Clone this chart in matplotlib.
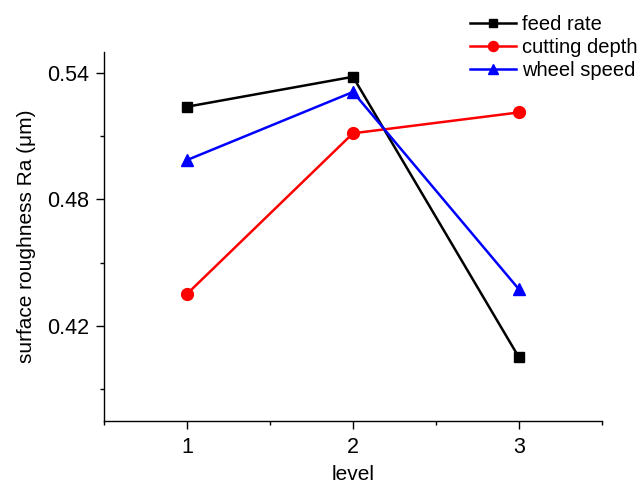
import numpy as np
import matplotlib
matplotlib.use("Agg")
import matplotlib.pyplot as plt
from matplotlib.ticker import MultipleLocator

plt.rcParams['font.family'] = ['Liberation Sans', 'DejaVu Sans']

levels = [1, 2, 3]
feed_rate = [0.5239, 0.5381, 0.4050]
cutting_depth = [0.4351, 0.5113, 0.5212]
wheel_speed = [0.4986, 0.5309, 0.4373]

fig = plt.figure(figsize=(6.43, 4.84), dpi=100)
ax = fig.add_axes([0.1617, 0.1308, 0.9362 - 0.1617, 0.8932 - 0.1308])

l1, = ax.plot(levels, feed_rate, color='black', lw=1.8, marker='s', ms=7.5, label='feed rate')
l2, = ax.plot(levels, cutting_depth, color='red', lw=1.8, marker='o', ms=8.5, label='cutting depth')
l3, = ax.plot(levels, wheel_speed, color='blue', lw=1.8, marker='^', ms=9, label='wheel speed')

ax.set_xlim(0.5, 3.5)
ax.set_ylim(0.375, 0.55)
ax.xaxis.set_major_locator(MultipleLocator(1))
ax.xaxis.set_minor_locator(MultipleLocator(0.5))
ax.yaxis.set_major_locator(MultipleLocator(0.06))
ax.yaxis.set_minor_locator(MultipleLocator(0.03))
ax.set_yticks([0.42, 0.48, 0.54])
ax.set_yticklabels(['0.42', '0.48', '0.54'])

for s in ['top', 'right']:
    ax.spines[s].set_visible(False)
for s in ['left', 'bottom']:
    ax.spines[s].set_linewidth(1.0)

ax.tick_params(which='major', direction='out', length=5.5, width=1.0, labelsize=15.5)
ax.tick_params(which='minor', direction='out', length=3, width=1.0)
ax.tick_params(axis='x', pad=6)
ax.tick_params(axis='y', pad=5)

ax.set_xlabel('level', fontsize=15, labelpad=5)
ax.set_ylabel('surface roughness Ra (\u03bcm)', fontsize=15, labelpad=8)

fig.legend(handles=[l1, l2, l3], loc='upper left', bbox_to_anchor=(0.709, 0.998),
           frameon=False, fontsize=14.5, handlelength=2.3, handletextpad=0.3,
           labelspacing=0.2, borderaxespad=0.3, markerscale=0.85)

fig.savefig('out.png', dpi=100)
